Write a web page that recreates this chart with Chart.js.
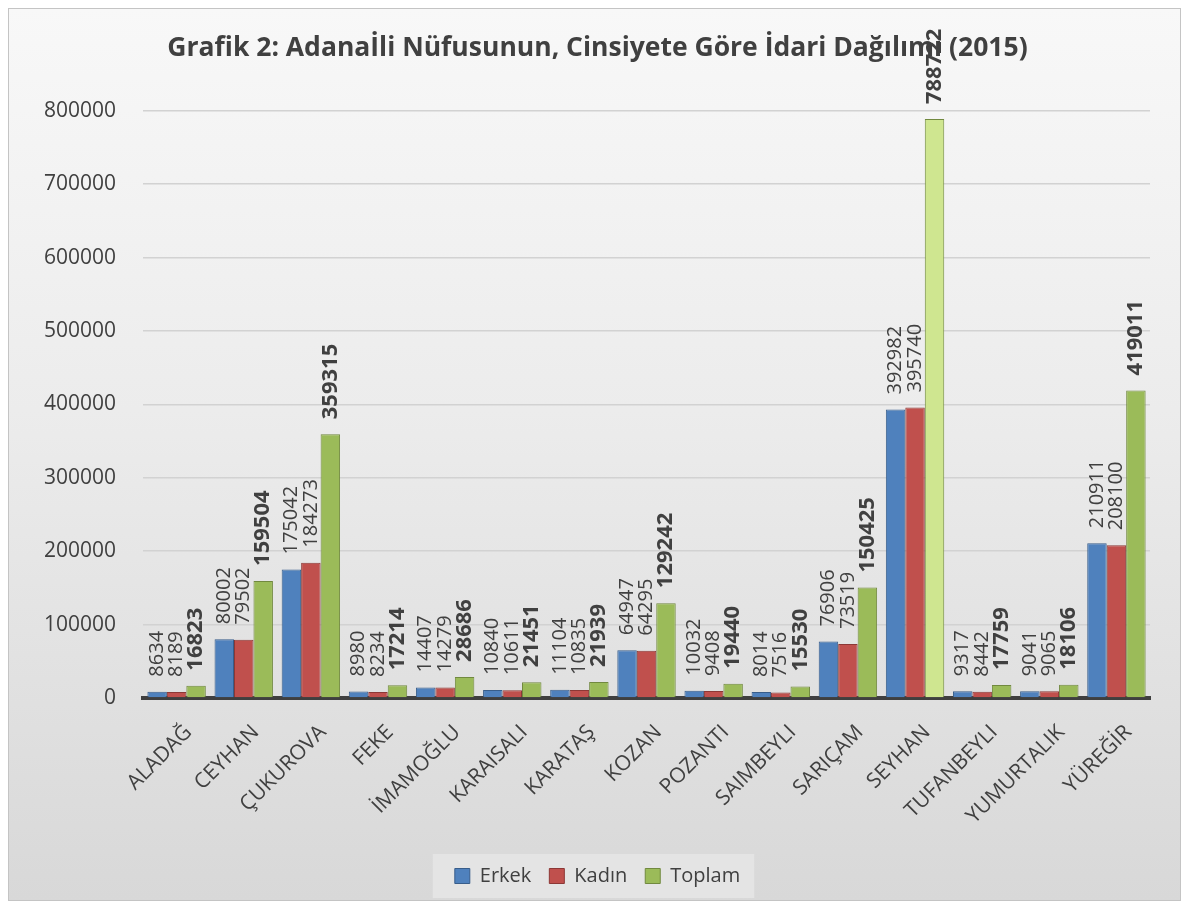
<!DOCTYPE html>
<html>
<head>
<meta charset="utf-8">
<script src="https://cdn.jsdelivr.net/npm/chart.js@4/dist/chart.umd.min.js"></script>
<style>
  html, body { margin: 0; padding: 0; background: #fff; }
  #box {
    position: absolute; left: 8px; top: 8px; width: 1171px; height: 891px;
    border: 1px solid #c4c4c4;
    background: linear-gradient(to bottom, #f8f8f8 0%, #ececec 45%, #d8d8d8 100%);
  }
</style>
</head>
<body>
<div id="box"><canvas id="nufusChart"></canvas></div>
<script>
// ilçeler
const districts = ['ALADAĞ', 'CEYHAN', 'ÇUKUROVA', 'FEKE', 'İMAMOĞLU', 'KARAISALI', 'KARATAŞ',
  'KOZAN', 'POZANTI', 'SAIMBEYLI', 'SARIÇAM', 'SEYHAN', 'TUFANBEYLI', 'YUMURTALIK', 'YÜREĞİR'];
const erkek  = [8634, 80002, 175042, 8980, 14407, 10840, 11104, 64947, 10032, 8014, 76906, 392982, 9317, 9041, 210911];
const kadin  = [8189, 79502, 184273, 8234, 14279, 10611, 10835, 64295, 9408, 7516, 73519, 395740, 8442, 9065, 208100];
const toplam = [16823, 159504, 359315, 17214, 28686, 21451, 21939, 129242, 19440, 15530, 150425, 788722, 17759, 18106, 419011];
const yTicks = [0, 100000, 200000, 300000, 400000, 500000, 600000, 700000, 800000];

const textColor = '#404040';
const fontName = '"Open Sans", "DejaVu Sans", sans-serif';

// values written vertically above each bar
const barLabels = {
  id: 'barLabels',
  afterDatasetsDraw(chart) {
    const ctx = chart.ctx;
    chart.data.datasets.forEach((ds, i) => {
      const bold = i === 2;
      chart.getDatasetMeta(i).data.forEach((bar, j) => {
        ctx.save();
        ctx.translate(bar.x, bar.y - 15);
        ctx.rotate(-Math.PI / 2);
        ctx.font = (bold ? 'bold 22px ' : '20px ') + fontName;
        ctx.fillStyle = textColor;
        ctx.textAlign = 'left';
        ctx.textBaseline = 'middle';
        ctx.fillText(String(ds.data[j]), 0, 0);
        ctx.restore();
      });
    });
  }
};

// title and legend sit centred on the whole picture, not on the padded box
const centreShift = {
  id: 'centreShift',
  afterLayout(chart) {
    [chart.titleBlock, chart.legend].forEach(b => {
      if (b) { b.left += 14; b.right += 14; }
    });
  }
};

// light panel behind the legend
const legendPanel = {
  id: 'legendPanel',
  beforeDraw(chart) {
    const lg = chart.legend;
    const boxes = lg && lg.legendHitBoxes;
    if (!boxes || !boxes.length) return;
    const w = Math.max(...boxes.map(b => b.left + b.width)) - Math.min(...boxes.map(b => b.left)) + 36;
    const mid = (lg.left + lg.right) / 2;
    const top = boxes[0].top - 12;
    const ctx = chart.ctx;
    ctx.save();
    ctx.fillStyle = '#e4e4e4';
    ctx.fillRect(mid - w / 2 - 4, top, w, boxes[0].height + 24);
    ctx.restore();
  }
};

function ready(fn) {
  if (document.readyState !== 'loading') fn();
  else document.addEventListener('DOMContentLoaded', fn);
}

ready(function () {
  const ctx = document.getElementById('nufusChart').getContext('2d');

  const data = {
    labels: districts,
    datasets: [
      { label: 'Erkek', data: erkek, backgroundColor: '#4f81bd', borderColor: '#385d8a', borderWidth: 1 },
      { label: 'Kadın', data: kadin, backgroundColor: '#c0504d', borderColor: '#8c3836', borderWidth: 1 },
      {
        label: 'Toplam', data: toplam,
        backgroundColor: c => (c.dataIndex === 11 ? '#cfe690' : '#9bbb59'),
        borderColor: '#71893f', borderWidth: 1
      }
    ]
  };

  const config = {
    type: 'bar',
    data: data,
    options: {
      responsive: true,
      maintainAspectRatio: false,
      animation: false,
      layout: { padding: { top: 16, left: 8, right: 30, bottom: 4 } },
      datasets: { bar: { categoryPercentage: 0.87, barPercentage: 1.0 } },
      plugins: {
        title: {
          display: true,
          text: 'Grafik 2: Adanaİli Nüfusunun, Cinsiyete Göre İdari Dağılımı (2015)',
          color: textColor,
          font: { family: fontName, size: 26.5, weight: 'bold' },
          padding: { top: 8, bottom: 46 }
        },
        legend: {
          position: 'bottom',
          labels: {
            color: textColor,
            font: { family: fontName, size: 20 },
            boxWidth: 15, boxHeight: 15,
            padding: 18,
            generateLabels(chart) {
              const items = Chart.defaults.plugins.legend.labels.generateLabels(chart);
              items[2].fillStyle = '#9bbb59';
              return items;
            }
          }
        },
        tooltip: { enabled: false }
      },
      scales: {
        x: {
          grid: { display: false },
          border: { display: true, color: '#3f3f3f', width: 4 },
          ticks: {
            color: textColor,
            font: { family: fontName, size: 21 },
            minRotation: 45, maxRotation: 45,
            padding: 14,
            labelOffset: 12
          },
          afterFit: s => { s.height = 150; }
        },
        y: {
          min: 0, max: 800000,
          afterBuildTicks: s => { s.ticks = yTicks.map(v => ({ value: v })); },
          grid: { color: '#d2d2d2', lineWidth: 1.5, drawTicks: false },
          border: { display: false },
          ticks: {
            color: textColor,
            font: { family: fontName, size: 21 },
            padding: 27,
            callback: v => String(v)
          }
        }
      }
    },
    plugins: [centreShift, legendPanel, barLabels]
  };

  new Chart(ctx, config);
});
</script>
</body>
</html>
